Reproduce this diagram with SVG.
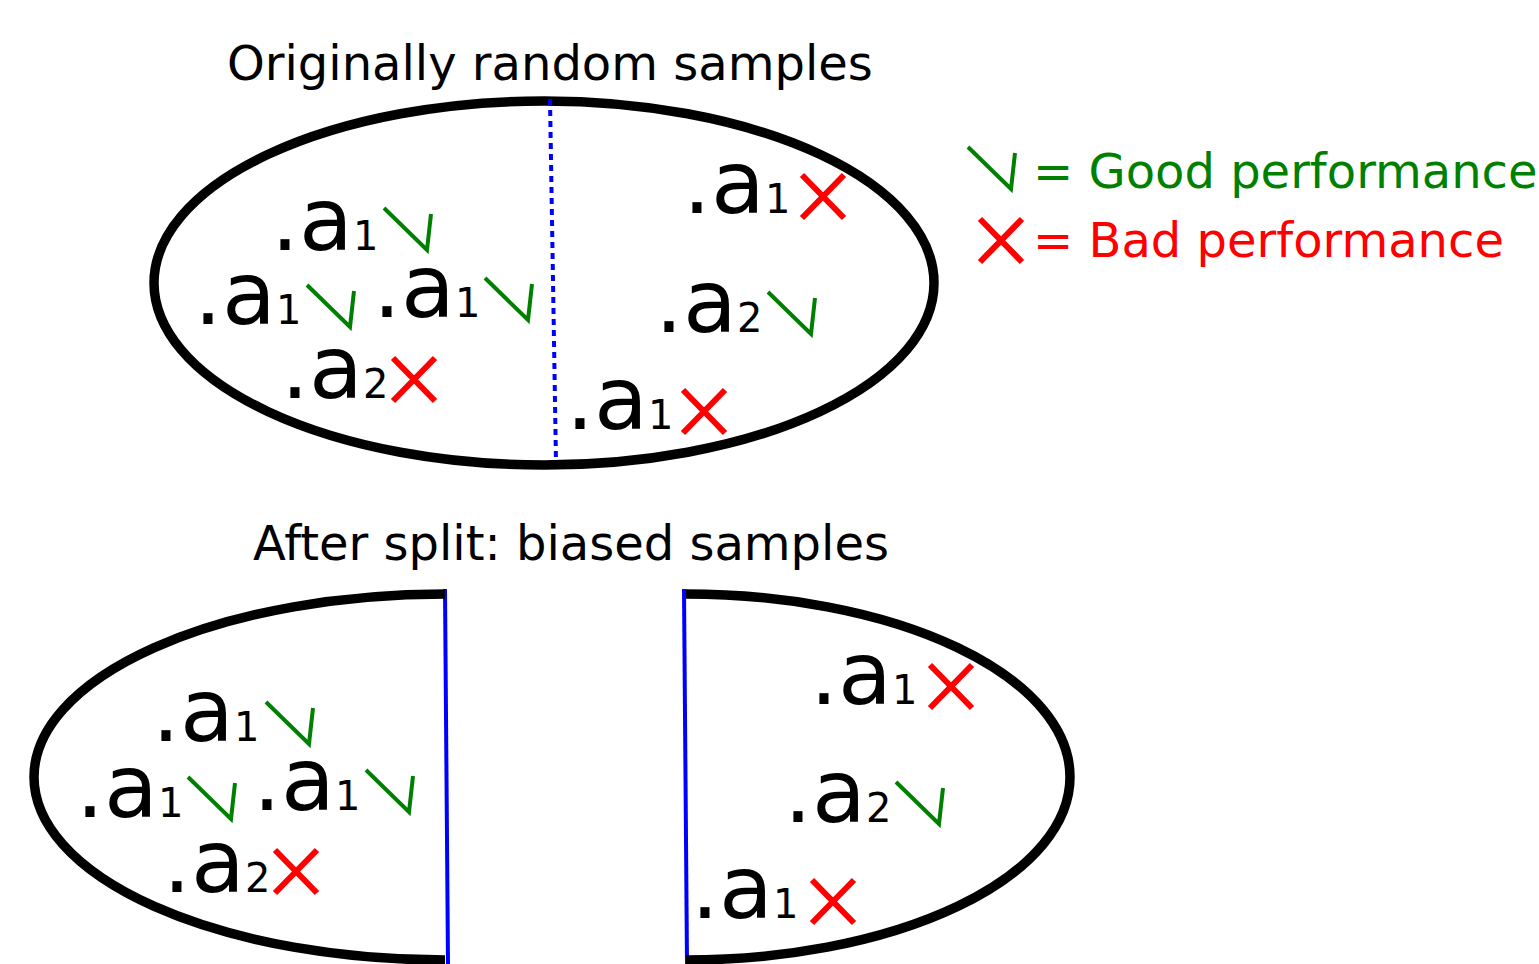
<svg xmlns="http://www.w3.org/2000/svg" xmlns:xlink="http://www.w3.org/1999/xlink" width="1539" height="964" viewBox="0 0 1539 964">
<style>
.t{font-family:"DejaVu Sans","Liberation Sans",sans-serif;font-size:48px;fill:#000}
.lb{font-family:"DejaVu Sans","Liberation Sans",sans-serif;font-size:88px;fill:#000}
.sub{font-size:40px}
.outline{fill:none;stroke:#000;stroke-width:9.5}
.split{fill:none;stroke:#0000ff;stroke-width:4}
.good{fill:none;stroke:#008000;stroke-width:4}
.bad{fill:none;stroke:#ff0000;stroke-width:6}
</style>
<defs>
<path id="chk" d="M0 0 L43 42 L47 6"/>
<path id="crs" d="M0 0 L42 43 M42 0 L0 43"/>
</defs>
<rect width="1539" height="964" fill="#fff"/>
<text class="t" x="227" y="80">Originally random samples</text>
<text class="t" x="253" y="560">After split: biased samples</text>
<g id="legend">
<use href="#chk" class="good" x="968" y="147"/>
<text class="t" x="1033" y="188" style="fill:#008000">= Good performance</text>
<use href="#crs" class="bad" x="980" y="219"/>
<text class="t" x="1033" y="257" style="fill:#ff0000">= Bad performance</text>
</g>
<g id="original">
<ellipse class="outline" cx="544" cy="283" rx="390" ry="182"/>
</g>
<g id="connectors">
<line class="split" x1="550" y1="99" x2="556" y2="462" stroke-dasharray="6 5"/>
<line class="split" x1="445" y1="589" x2="448" y2="964"/>
<line class="split" x1="684" y1="589" x2="687" y2="964"/>
</g>
<g id="left-part">
<path class="outline" d="M445 594 A411 183 0 0 0 445 960"/>
</g>
<g id="right-part">
<path class="outline" d="M686 594 A384 183 0 0 1 686 960"/>
</g>
<g id="top-samples">
<text class="lb" x="271" y="250">.a<tspan class="sub">1</tspan></text>
<use href="#chk" class="good" x="384" y="208"/>
<text class="lb" x="194" y="324">.a<tspan class="sub">1</tspan></text>
<use href="#chk" class="good" x="307" y="285"/>
<text class="lb" x="373" y="317">.a<tspan class="sub">1</tspan></text>
<use href="#chk" class="good" x="485" y="278"/>
<text class="lb" x="281" y="398">.a<tspan class="sub">2</tspan></text>
<use href="#crs" class="bad" x="393" y="358"/>
<text class="lb" x="683" y="213">.a<tspan class="sub">1</tspan></text>
<use href="#crs" class="bad" x="802" y="175"/>
<text class="lb" x="655" y="332">.a<tspan class="sub">2</tspan></text>
<use href="#chk" class="good" x="768" y="292"/>
<text class="lb" x="566" y="429">.a<tspan class="sub">1</tspan></text>
<use href="#crs" class="bad" x="683" y="390"/>
</g>
<g id="bottom-samples">
<text class="lb" x="152" y="741">.a<tspan class="sub">1</tspan></text>
<use href="#chk" class="good" x="266" y="702"/>
<text class="lb" x="76" y="817">.a<tspan class="sub">1</tspan></text>
<use href="#chk" class="good" x="188" y="777"/>
<text class="lb" x="253" y="810">.a<tspan class="sub">1</tspan></text>
<use href="#chk" class="good" x="366" y="770"/>
<text class="lb" x="163" y="892">.a<tspan class="sub">2</tspan></text>
<use href="#crs" class="bad" x="275" y="850"/>
<text class="lb" x="810" y="704">.a<tspan class="sub">1</tspan></text>
<use href="#crs" class="bad" x="930" y="665"/>
<text class="lb" x="784" y="822">.a<tspan class="sub">2</tspan></text>
<use href="#chk" class="good" x="896" y="782"/>
<text class="lb" x="691" y="918">.a<tspan class="sub">1</tspan></text>
<use href="#crs" class="bad" x="812" y="880"/>
</g>
</svg>
